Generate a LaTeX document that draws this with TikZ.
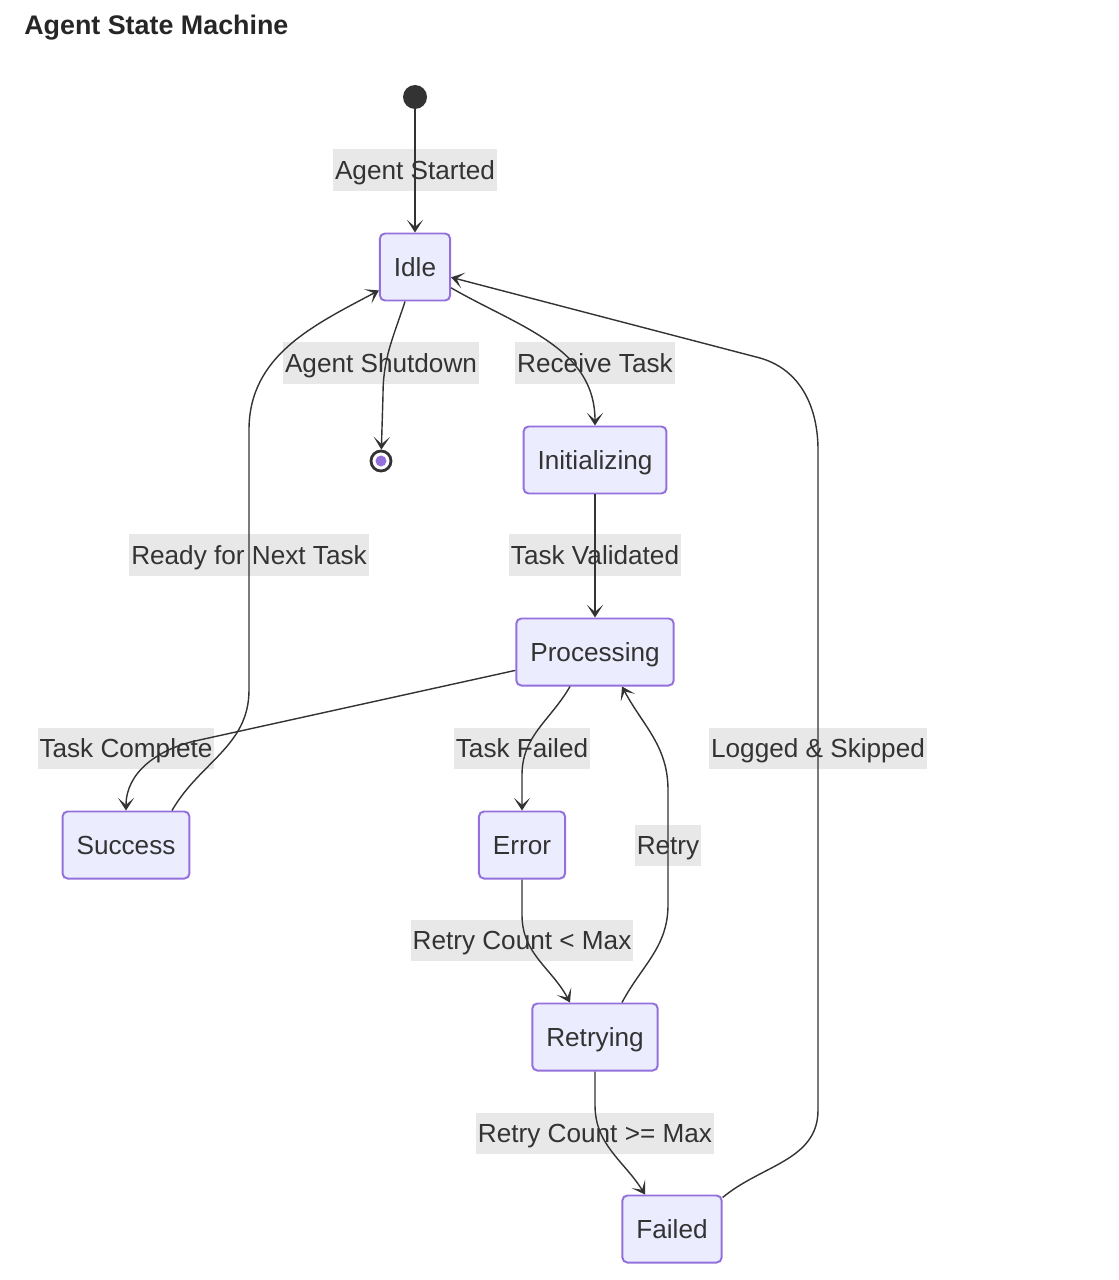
\documentclass[tikz,border=0pt]{standalone}
\usepackage{fontspec}
\setmainfont{Liberation Sans}
\usetikzlibrary{arrows.meta,calc}

\definecolor{statefill}{HTML}{ECECFF}
\definecolor{stateline}{HTML}{9370DB}
\definecolor{lblgray}{HTML}{E8E8E8}
\definecolor{ink}{HTML}{333333}

\tikzset{
    state/.style = {draw = stateline, fill = statefill, line width = 1.4pt,
        rounded corners = 0.125cm, minimum height = 1.675cm, inner xsep = 0.35cm,
        text height = 13.5pt, text depth = 0pt,
        text = ink, font = \fontsize{18.6}{22}\selectfont},
    lbl/.style = {fill = lblgray, minimum height = 1.025cm, inner xsep = 0.05cm,
        inner ysep = 0pt, text height = 13.5pt, text depth = 0pt,
        text = ink, font = \fontsize{18.6}{22}\selectfont},
    arr/.style = {draw = ink, line width = 1pt,
        -{Stealth[length = 9pt, width = 11.5pt, inset = 5pt]}}
}

\begin{document}
\begin{tikzpicture}[x = 0.025cm, y = -0.025cm]
        \useasboundingbox (0, 0) rectangle (1118, 1280);

        \node[anchor = west, inner sep = 0pt, text = black!85,
            font = \bfseries\fontsize{19.1}{23}\selectfont] (title) at (24, 28) {Agent State Machine};

        % start and end points
        \fill[ink] (415, 97) circle (12) coordinate (start);
        \node[circle, draw = ink, line width = 2pt, minimum size = 0.5cm, inner sep = 0pt] (stop) at (381, 461) {};
        \fill[stateline] (stop.center) circle (5.5);

        % states
        \node[state] (idle) at (415, 267) {Idle};
        \node[state] (init) at (595, 460) {Initializing};
        \node[state] (proc) at (595, 652) {Processing};
        \node[state] (success) at (126, 845) {Success};
        \node[state] (error) at (522, 845) {Error};
        \node[state] (retry) at (595, 1037) {Retrying};
        \node[state] (failed) at (672, 1229) {Failed};

        % transition labels
        \node[lbl] (lstart) at (415, 170) {Agent Started};
        \node[lbl] (lshut) at (381, 363) {Agent Shutdown};
        \node[lbl] (lrecv) at (595, 363) {Receive Task};
        \node[lbl] (lvalid) at (595, 555) {Task Validated};
        \node[lbl] (lready) at (249, 555) {Ready for Next Task};
        \node[lbl] (ldone) at (126, 748) {Task Complete};
        \node[lbl] (lfail) at (522, 748) {Task Failed};
        \node[lbl] (lretry) at (668, 845) {Retry};
        \node[lbl] (lskip) at (818, 748) {Logged \& Skipped};
        \node[lbl] (lless) at (522, 940) {Retry Count < Max};
        \node[lbl] (lmax) at (595, 1133) {Retry Count >= Max};

        % transitions
        \draw[arr] (start) -- (idle);
        \draw[arr] ($(idle.south) + (-10, 0)$) to[out = -108, in = 90] (383, 395) -- (stop);
        \draw[arr] (idle.-30) to[out = -30, in = 90] (init.north);
        \draw[arr] (init) -- (proc);
        \draw[arr] (proc.193) -- (195, 741) to[out = 193, in = 90] (success.north);
        \draw[arr] ($(success.north) + (46, 0)$) to[out = 60, in = -90] (249, 690)
            -- (249, 430) to[out = 90, in = 208] (idle.213);
        \draw[arr] ($(proc.south) + (-25, 0)$) to[out = -120, in = 90] (522, 775) -- (error.north);
        \draw[arr] (error.south) -- (522, 915) to[out = -90, in = 118] ($(retry.north) + (-25, 0)$);
        \draw[arr] ($(retry.north) + (27, 0)$) to[out = 62, in = -90] (668, 905)
            -- (668, 790) to[out = 90, in = -62] ($(proc.south) + (27, 0)$);
        \draw[arr] (retry.south) -- (595, 1105) to[out = -90, in = 122] ($(failed.north) + (-27, 0)$);
        \draw[arr] ($(failed.north east) + (0, 3)$) to[out = 40, in = -90] (818, 1110)
            -- (818, 450) to[out = 90, in = -16] (760, 358) -- (idle.-16);
\end{tikzpicture}
\end{document}
